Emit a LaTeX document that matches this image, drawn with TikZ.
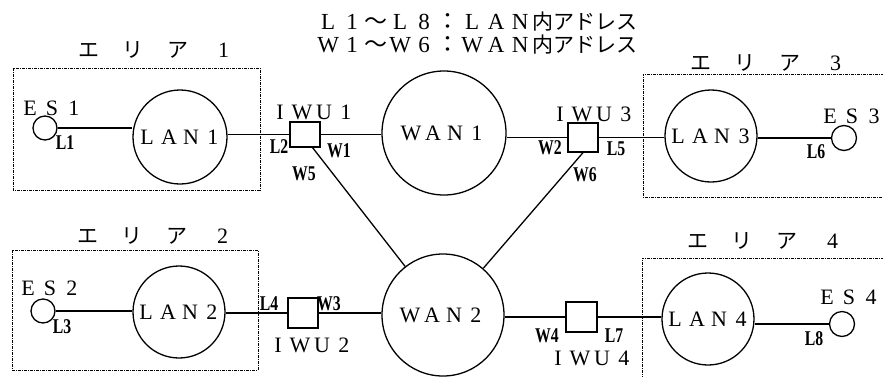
\documentclass[tikz,border=0pt]{standalone}
\usepackage{fontspec}
\setmainfont{Liberation Serif}
\newfontfamily\jp{Noto Sans CJK JP}
\newcommand\fw[1]{\makebox[22pt]{#1}}
\newcommand\tw[1]{\makebox[24pt]{#1}}
\newcommand\aw[1]{\makebox[45pt]{#1}}
\begin{document}
\begin{tikzpicture}[x=1pt,y=-1pt,
  net/.style={circle,draw,line width=1.3pt,inner sep=0pt,font=\fontsize{22}{22}\selectfont},
  esnode/.style={circle,draw,line width=1.3pt,inner sep=0pt,minimum size=24pt},
  iwu/.style={rectangle,draw,line width=1.3pt,inner sep=0pt,minimum width=30pt,minimum height=28pt},
  lbl/.style={inner sep=0pt,font=\fontsize{22}{22}\selectfont},
  addr/.style={inner sep=0pt,font=\fontsize{21}{21}\selectfont\bfseries,xscale=0.75},
  area/.style={line width=1pt,dash pattern=on 3pt off 1pt on 1pt off 1pt},
  link/.style={line width=1.3pt}]
\fill[white] (0,0) rectangle (883,376);
\useasboundingbox (0,0) rectangle (883,376);

% title
\node[anchor=west,inner sep=0pt,font=\fontsize{23}{23}\selectfont] (t1) at (316,22)
  {\tw{L}\tw{1}{\jp\tw{～}}\tw{L}\tw{8}{\jp\tw{：}}\tw{L}\tw{A}\tw{N}{\jp\fontsize{21}{21}\selectfont 内アドレス}};
\node[anchor=west,inner sep=0pt,font=\fontsize{23}{23}\selectfont] (t2) at (316,45)
  {\tw{W}\tw{1}{\jp\tw{～}}\tw{W}\tw{6}{\jp\tw{：}}\tw{W}\tw{A}\tw{N}{\jp\fontsize{21}{21}\selectfont 内アドレス}};

% areas
\draw[area] (13,68) rectangle (260,190);
\draw[area] (12,250) rectangle (258,370);
\draw[area] (884,74) -- (643,74) -- (643,197) -- (884,197);
\draw[area] (884,258) -- (642,258) -- (642,377);
\node[lbl] (ar1) at (156,50) {{\jp\fontsize{21}{21}\selectfont\aw{エ}\aw{リ}\aw{ア}}\aw{1}};
\node[lbl] (ar2) at (155,236) {{\jp\fontsize{21}{21}\selectfont\aw{エ}\aw{リ}\aw{ア}}\aw{2}};
\node[lbl] (ar3) at (768,63) {{\jp\fontsize{21}{21}\selectfont\aw{エ}\aw{リ}\aw{ア}}\aw{3}};
\node[lbl] (ar4) at (765,241) {{\jp\fontsize{21}{21}\selectfont\aw{エ}\aw{リ}\aw{ア}}\aw{4}};

% row 1
\node[esnode] (es1) at (45,128) {};
\node[net,minimum size=94pt] (lan1) at (180,137) {\fw{L}\fw{A}\fw{N}\fw{1}};
\node[iwu,minimum height=25pt] (iwu1) at (305,134.5) {};
\node[net,minimum size=124pt] (wan1) at (444,133) {\fw{W}\fw{A}\fw{N}\fw{1}};
\node[iwu,minimum height=29pt] (iwu3) at (583,137.5) {};
\node[net,minimum size=92pt] (lan3) at (711,136) {\fw{L}\fw{A}\fw{N}\fw{3}};
\node[esnode,minimum size=25pt] (es3) at (844,138) {};

% row 2
\node[esnode] (es2) at (43,311) {};
\node[net,minimum size=92pt] (lan2) at (179,312) {\fw{L}\fw{A}\fw{N}\fw{2}};
\node[iwu,minimum height=30pt] (iwu2) at (303,313) {};
\node[net,minimum size=122pt] (wan2) at (443,315) {\fw{W}\fw{A}\fw{N}\fw{2}};
\node[iwu,minimum width=31pt,minimum height=30pt] (iwu4) at (581.5,317) {};
\node[net,minimum size=92pt] (lan4) at (708,319) {\fw{L}\fw{A}\fw{N}\fw{4}};
\node[esnode,minimum size=25pt] (es4) at (842,324) {};

% node labels
\node[lbl] (les1) at (52,108) {\fw{E}\fw{S}\fw{1}};
\node[lbl] (les2) at (50,288) {\fw{E}\fw{S}\fw{2}};
\node[lbl] (les3) at (852,116) {\fw{E}\fw{S}\fw{3}};
\node[lbl] (les4) at (849,297) {\fw{E}\fw{S}\fw{4}};
\node[lbl] (liwu1) at (313,112) {\fw{I}\fw{W}\fw{U}\fw{1}};
\node[lbl] (liwu3) at (593,114) {\fw{I}\fw{W}\fw{U}\fw{3}};
\node[lbl] (liwu2) at (311,345) {\fw{I}\fw{W}\fw{U}\fw{2}};
\node[lbl] (liwu4) at (591,358) {\fw{I}\fw{W}\fw{U}\fw{4}};

% address labels
\node[addr] (al1) at (65,143) {L1};
\node[addr] (al2) at (279,147) {L2};
\node[addr] (aw1) at (339,151) {W1};
\node[addr] (aw5) at (304,174) {W5};
\node[addr] (aw2) at (550,148) {W2};
\node[addr] (al5) at (616,149) {L5};
\node[addr] (aw6) at (585,175) {W6};
\node[addr] (al6) at (816,152) {L6};
\node[addr] (al3) at (62,327) {L3};
\node[addr] (al4) at (269,304) {L4};
\node[addr] (aw3) at (329,304) {W3};
\node[addr] (aw4) at (547,336) {W4};
\node[addr] (al7) at (614,336) {L7};
\node[addr] (al8) at (814,339) {L8};

% links row 1
\draw[link] (es1.east) -- (es1.east -| lan1.west);
\draw[link] (iwu1.west) -- (iwu1.west -| lan1.east);
\draw[link] (iwu1.east) -- (iwu1.east -| wan1.west);
\draw[link] (iwu3.west) -- (iwu3.west -| wan1.east);
\draw[link] (iwu3.east) -- (iwu3.east -| lan3.west);
\draw[link] (es3.west) -- (es3.west -| lan3.east);
% links row 2
\draw[link] (es2.east) -- (es2.east -| lan2.west);
\draw[link] (iwu2.west) -- (iwu2.west -| lan2.east);
\draw[link] (iwu2.east) -- (iwu2.east -| wan2.west);
\draw[link] (iwu4.west) -- (iwu4.west -| wan2.east);
\draw[link] (iwu4.east) -- (iwu4.east -| lan4.west);
\draw[link] (es4.west) -- (es4.west -| lan4.east);
% diagonals
\draw[link] (iwu1.-60) -- (wan2);
\draw[link] (iwu3.south) -- (wan2);
\end{tikzpicture}
\end{document}
